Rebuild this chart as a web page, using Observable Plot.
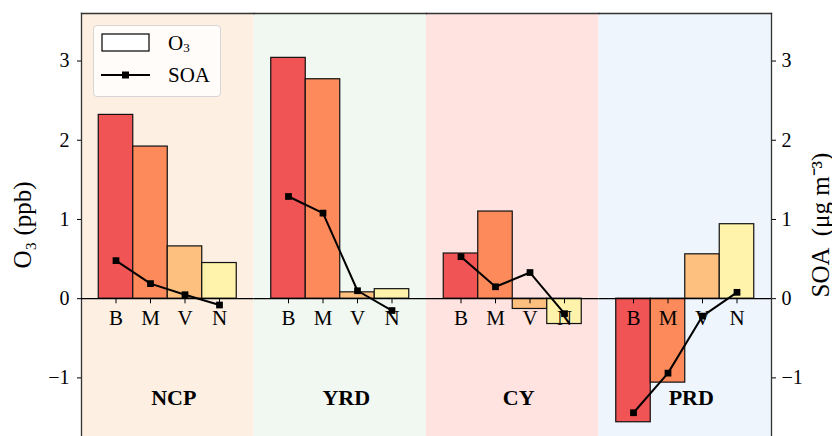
<!DOCTYPE html>
<html><head><meta charset="utf-8">
<script src="https://cdn.jsdelivr.net/npm/d3@7"></script>
<script src="https://cdn.jsdelivr.net/npm/@observablehq/plot@0.6"></script>
<style>
body{margin:0;background:#fff;}
#wrap{position:relative;width:832px;height:436px;}
#legend{position:absolute;left:93px;top:25px;width:128px;height:72px;box-sizing:border-box;border:1px solid #d6d6d6;border-radius:4px;background:rgba(255,255,255,0.8);}
#legend svg{position:absolute;left:0;top:0;}
</style></head><body><div id="wrap"></div>
<script>
const regions = ["NCP", "YRD", "CY", "PRD"];
const types = ["B", "M", "V", "N"];
const o3NCP = [2.32, 1.92, 0.66, 0.45];
const o3YRD = [3.04, 2.77, 0.08, 0.12];
const o3CY  = [0.57, 1.10, -0.13, -0.32];
const o3PRD = [-1.56, -1.06, 0.56, 0.94];
const soaNCP = [0.48, 0.19, 0.05, -0.08];
const soaYRD = [1.29, 1.08, 0.10, -0.15];
const soaCY  = [0.53, 0.15, 0.33, -0.19];
const soaPRD = [-1.44, -0.94, -0.22, 0.08];
const typeColors = ["#f05454", "#fc8a5b", "#fec07f", "#fff2aa"];
const regionColors = ["#fdefe2", "#f1f8f1", "#fee3e1", "#eef5fd"];
const yTicks = [-1, 0, 1, 2, 3];
const yDomain = [-1.74, 3.6];
const regionLabelY = -1.25;

const o3Sets = [o3NCP, o3YRD, o3CY, o3PRD];
const soaSets = [soaNCP, soaYRD, soaCY, soaPRD];
const data = regions.flatMap((r, i) => types.map((t, j) => ({
  region: r, type: t, o3: o3Sets[i][j], soa: soaSets[i][j], color: typeColors[j]
})));
const regionData = regions.map((r, i) => ({region: r, bg: regionColors[i]}));

const font = "'Liberation Serif', 'Times New Roman', serif";
const spine = {stroke: "#333", strokeWidth: 1.3};

const chart = Plot.plot({
  width: 832, height: 436,
  marginLeft: 81, marginRight: 61, marginTop: 13, marginBottom: 0,
  style: {fontFamily: font, fontSize: "20px", color: "#000", background: "#fff"},
  fx: {domain: regions, padding: 0, axis: null, round: false, label: null},
  x: {domain: types, paddingInner: 0, paddingOuter: 0.5, round: false, axis: null},
  y: {domain: yDomain},
  color: {type: "identity"},
  marks: [
    Plot.rect(regionData, {fx: "region", fill: "bg"}),
    Plot.frame({anchor: "top", ...spine}),
    Plot.frame({anchor: "left", facetAnchor: "left", ...spine}),
    Plot.frame({anchor: "right", facetAnchor: "right", ...spine}),
    Plot.axisY({anchor: "left", ticks: yTicks, tickSize: 4, tickPadding: 8, tickFormat: d3.format("d"), fontSize: 20, label: null}),
    Plot.axisY({anchor: "right", ticks: yTicks, tickSize: 4, tickPadding: 6, tickFormat: d3.format("d"), fontSize: 20, label: null}),
    Plot.axisY({anchor: "left", ticks: [], label: "O₃ (ppb)", labelArrow: "none", labelAnchor: "center", labelOffset: 68, fontSize: 25}),
    Plot.axisY({anchor: "right", ticks: [], label: "SOA  (μg m⁻³)", labelArrow: "none", labelAnchor: "center", labelOffset: 57, fontSize: 25}),
    Plot.barY(data, {fx: "region", x: "type", y: "o3", fill: "color", stroke: "#111", strokeWidth: 1.2}),
    Plot.ruleY([0], {stroke: "#000", strokeWidth: 1.3}),
    Plot.ruleX(data, {fx: "region", x: "type", y1: 0, y2: -0.065, stroke: "#000", strokeWidth: 1}),
    Plot.text(data, {fx: "region", x: "type", y: 0, text: "type", dy: 20, fontSize: 21}),
    Plot.line(data, {fx: "region", x: "type", y: "soa", stroke: "#000", strokeWidth: 2}),
    Plot.dot(data, {fx: "region", x: "type", y: "soa", symbol: "square", r: 3.8, fill: "#000", stroke: "none"}),
    Plot.text(regionData, {fx: "region", y: regionLabelY, text: "region", dx: 6, fontWeight: "bold", fontSize: 22})
  ]
});
const wrap = document.getElementById("wrap");
wrap.appendChild(chart);

const legend = document.createElement("div");
legend.id = "legend";
legend.innerHTML = `<svg width="128" height="72" font-family="${font.replace(/"/g, "")}" font-size="21">
  <rect x="8" y="8" width="47" height="17" fill="#fff" stroke="#000" stroke-width="1.2"/>
  <text x="74" y="24">O<tspan font-size="13" dy="2">3</tspan></text>
  <line x1="7" x2="56" y1="49" y2="49" stroke="#000" stroke-width="2"/>
  <rect x="28" y="45.5" width="7" height="7" fill="#000"/>
  <text x="74" y="56">SOA</text>
</svg>`;
wrap.appendChild(legend);
</script></body></html>
